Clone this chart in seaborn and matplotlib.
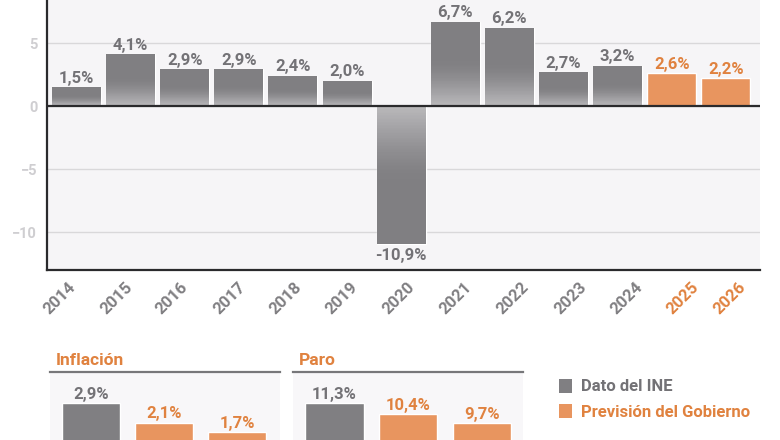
import numpy as np
import matplotlib
matplotlib.use("Agg")
import matplotlib.pyplot as plt
import matplotlib.transforms as mtrans
from matplotlib.colors import LinearSegmentedColormap
from matplotlib.patches import Patch
import seaborn as sns

years = ["2014", "2015", "2016", "2017", "2018", "2019", "2020",
         "2021", "2022", "2023", "2024", "2025", "2026"]
gdp = [1.5, 4.1, 2.9, 2.9, 2.4, 2.0, -10.9, 6.7, 6.2, 2.7, 3.2, 2.6, 2.2]
forecast_years = ["2025", "2026"]
y_ticks = [-10, -5, 0, 5]
y_tick_labels = ["\u221210", "\u22125", "0", "5"]

infl_cats = ["2024", "2025", "2026"]
infl_vals = [2.9, 2.1, 1.7]
paro_cats = ["2024", "2025", "2026"]
paro_vals = [11.3, 10.4, 9.7]

legend_labels = ["Dato del INE", "Previsi\u00f3n del Gobierno"]

# tick-label horizontal shift in pixels (the original labels drift from the bars)
label_shift_px = [-19, -16, -15, -11, -9, -7, -4, -1, 2, 5, 7, 9, 2]

GREY = "#807f82"
ORANGE = "#e8955f"
ORANGE_TXT = "#e0823f"
PANEL = "#f6f5f7"
W, H = 780, 440

sns.set_theme(style="white")
plt.rcParams["font.family"] = ["Roboto", "DejaVu Sans"]

fig = plt.figure(figsize=(W / 100, H / 100), dpi=100, facecolor="white")


def px_axes(l, t, r, b):
    return fig.add_axes([l / W, 1 - b / H, (r - l) / W, (b - t) / H])


def fmt(v):
    return f"{v:.1f}".replace(".", ",") + "%"


# ---------- main chart ----------
ax = px_axes(47, 0, 760, 270)
ax.set_facecolor(PANEL)
sns.barplot(x=years, y=gdp, order=years, color=GREY, width=0.905, saturation=1, ax=ax, zorder=3)

# fade runs over the lower part of each bar; the rest of the ramp stays flat grey
fade = LinearSegmentedColormap.from_list(
    "fade", [(0, "#b9b8ba"), (0.16, "#a3a2a5"), (0.33, "#8e8d90"), (0.47, "#828184"),
             (0.55, GREY), (1, GREY)])
ramp = np.linspace(0, 1, 96).reshape(-1, 1)
for patch, yr, v in zip(ax.patches, years, gdp):
    x0, w = patch.get_x(), patch.get_width()
    if yr in forecast_years:
        patch.set_facecolor(ORANGE)
    else:
        patch.set_facecolor(GREY)
        edges = np.linspace(0, v, ramp.shape[0] + 1)
        ax.pcolormesh([x0, x0 + w], edges, ramp, cmap=fade, vmin=0, vmax=1,
                      shading="flat", linewidth=0, antialiased=False, zorder=3.5)
    col = ORANGE_TXT if yr in forecast_years else "#737276"
    ax.annotate(fmt(v), (x0 + w / 2, v), xytext=(0, 1 if v > 0 else -3),
                textcoords="offset points", ha="center",
                va="bottom" if v > 0 else "top",
                fontsize=12, fontweight="bold", color=col, zorder=5)
ax.set_xlim(-0.545, 12.63)
ax.set_ylim(-13.0, 8.41)

ax.set_yticks(y_ticks)
ax.set_yticklabels(y_tick_labels, fontsize=10.5, fontweight="bold", color="#cfced1")
ax.yaxis.grid(True, color="#d9d8da", lw=1, zorder=0)
ax.set_axisbelow(True)
ax.tick_params(axis="y", length=0, pad=7)
ax.tick_params(axis="x", length=0, pad=7)
ax.set_xticks(range(len(years)))
ax.set_xticklabels(years, rotation=45, ha="right", rotation_mode="anchor",
                   fontsize=12, fontweight="bold")
for lab, yr, dx in zip(ax.get_xticklabels(), years, label_shift_px):
    lab.set_color(ORANGE_TXT if yr in forecast_years else GREY)
    lab.set_transform(lab.get_transform() +
                      mtrans.ScaledTranslation((dx + 10) / 100, 0, fig.dpi_scale_trans))
ax.axhline(0, color="#2a2a2c", lw=1.6, zorder=4)
for s in ["top", "right"]:
    ax.spines[s].set_visible(False)
for s in ["left", "bottom"]:
    ax.spines[s].set_visible(True)
    ax.spines[s].set_color("#2a2a2c")
    ax.spines[s].set_linewidth(1.6)
ax.set_xlabel("")
ax.set_ylabel("")


# ---------- small panels ----------
def panel(box, title, cats, vals, ylim, xlim):
    a = px_axes(*box)
    a.set_facecolor("#f8f7f9")
    sns.barplot(x=cats, y=vals, order=cats, color=ORANGE, width=0.79, saturation=1, ax=a, zorder=3)
    a.patches[0].set_facecolor(GREY)
    a.set_xlim(*xlim)
    a.set_ylim(*ylim)
    for i, (p, v) in enumerate(zip(a.patches, vals)):
        a.annotate(fmt(v), (p.get_x() + p.get_width() / 2, v), xytext=(0, 1),
                   textcoords="offset points", ha="center", va="bottom",
                   fontsize=12, fontweight="bold",
                   color="#737276" if i == 0 else ORANGE_TXT, zorder=5)
    a.set_xticks([])
    a.set_yticks([])
    a.set_xlabel("")
    a.set_ylabel("")
    for s in ["left", "right", "bottom"]:
        a.spines[s].set_visible(False)
    a.spines["top"].set_visible(True)
    a.spines["top"].set_color("#77777a")
    a.spines["top"].set_linewidth(1.6)
    a.text(0.026, 1.06, title, transform=a.transAxes, ha="left", va="bottom",
           fontsize=12.5, fontweight="bold", color=ORANGE_TXT)
    return a


panel((50, 372, 280, 440), "Inflaci\u00f3n", infl_cats, infl_vals,
      (1.38, 4.21), (-0.562, 2.589))
panel((293, 372, 523, 440), "Paro", paro_cats, paro_vals,
      (8.34, 13.78), (-0.562, 2.56))

# ---------- legend ----------
handles = [Patch(facecolor=GREY, edgecolor="none"), Patch(facecolor=ORANGE, edgecolor="none")]
leg = fig.legend(handles, legend_labels, loc="upper left",
                 bbox_to_anchor=(552 / W, 1 - 372 / H), frameon=False,
                 prop={"family": "Roboto", "weight": "bold", "size": 12},
                 handlelength=0.8, handleheight=0.9, handletextpad=0.55,
                 labelspacing=0.57, borderpad=0.4, borderaxespad=0)
for t, c in zip(leg.get_texts(), ["#737276", ORANGE_TXT]):
    t.set_color(c)

fig.savefig("out.png", dpi=100, facecolor="white")
